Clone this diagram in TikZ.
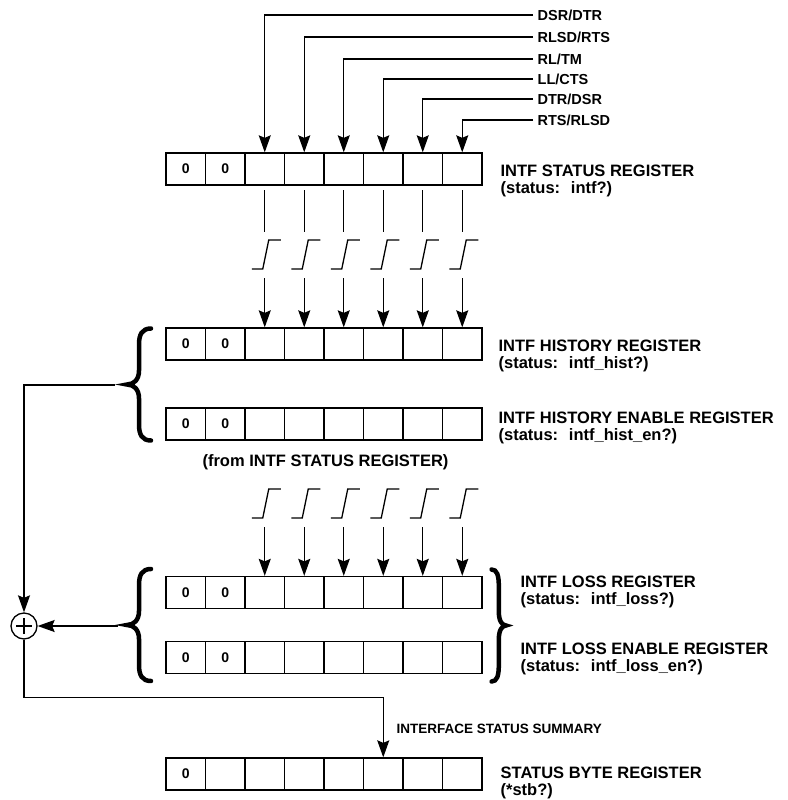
\documentclass[tikz,border=0pt]{standalone}
\usepackage{fontspec}
\setmainfont{Liberation Sans}
\usetikzlibrary{arrows.meta,positioning}

\newcommand\bitrow[3]{% name, centre y, number of zero bits
  \foreach \i in {1,...,8}
    \node[cell] (#1\i) at ({185.75+39.5*(\i-1)},#2) {\ifnum\i>#3\else 0\fi};
}

\begin{document}
\begin{tikzpicture}[
  x=1pt,y=-1pt,line width=1.3pt,
  cell/.style={draw,minimum width=39.5pt,minimum height=32pt,inner sep=0pt,
    font=\fontsize{14}{14}\selectfont\bfseries},
  reglbl/.style={anchor=west,align=left,inner sep=0pt,
    font=\fontsize{16.5}{17}\selectfont\bfseries},
  sig/.style={anchor=west,inner sep=4pt,font=\fontsize{14.5}{16}\selectfont\bfseries},
  flow/.style={-{Stealth[length=17pt,width=12pt,inset=2.5pt]}},
  edgeup/.pic={\draw (-13,0) -- (-2,0) -- (4,-29) -- (16,-29);},
  openbrace/.pic={\draw[line width=4.5pt,line cap=round]
    (24,-56) .. controls (15,-56) and (12,-50) .. (12,-40) -- (12,-14)
    .. controls (12,-5) and (7,0) .. (0,0)
    .. controls (7,0) and (12,5) .. (12,14) -- (12,40)
    .. controls (12,50) and (15,56) .. (24,56);}
]
  \useasboundingbox (0,0) rectangle (787,800);

  % registers
  \bitrow{st}{169}{2}
  \bitrow{hi}{344}{2}
  \bitrow{he}{424}{2}
  \bitrow{lo}{592.5}{2}
  \bitrow{le}{657.5}{2}
  \bitrow{sb}{774}{1}

  \node[reglbl] (stlbl) at (500,180.5) {INTF STATUS REGISTER\\(status:~ intf?)};
  \node[reglbl] (hilbl) at (498,355.5) {INTF HISTORY REGISTER\\(status:~ intf\_hist?)};
  \node[reglbl] (helbl) at (498,428) {INTF HISTORY ENABLE REGISTER\\(status:~ intf\_hist\_en?)};
  \node[reglbl] (lolbl) at (520,591.5) {INTF LOSS REGISTER\\(status:~ intf\_loss?)};
  \node[reglbl] (lelbl) at (520,659) {INTF LOSS ENABLE REGISTER\\(status:~ intf\_loss\_en?)};
  \node[reglbl] (sblbl) at (500,783) {STATUS BYTE REGISTER\\(*stb?)};
  \node[reglbl,anchor=center] (from) at (325.5,462) {(from INTF STATUS REGISTER)};
  \node[reglbl,font=\fontsize{13.5}{15}\selectfont\bfseries] (summary) at (396,729)
    {INTERFACE STATUS SUMMARY};

  % interface lines
  \node[sig] (s3) at (533,15) {DSR/DTR};
  \node[sig] (s4) at (533,37) {RLSD/RTS};
  \node[sig] (s5) at (533,59) {RL/TM};
  \node[sig] (s6) at (533,79) {LL/CTS};
  \node[sig] (s7) at (533,99) {DTR/DSR};
  \node[sig] (s8) at (533,120) {RTS/RLSD};

  \foreach \i in {3,...,8} {
    \draw[flow] (s\i.west) -| (st\i.north);
    \draw (st\i |- 0,190) -- (st\i |- 0,232);
    \pic at (st\i |- 0,269) {edgeup};
    \draw[flow] (st\i |- 0,278) -- (hi\i.north);
    \pic at (lo\i |- 0,518) {edgeup};
    \draw[flow] (lo\i |- 0,527) -- (lo\i.north);
  }

  % braces and summary
  \pic at (127,384.5) {openbrace};
  \pic at (127,625) {openbrace};
  \pic[xscale=-0.6] at (506,625.5) {openbrace};

  \node[circle,draw,minimum size=26pt,inner sep=0pt] (sum) at (24,626) {};
  \draw ([xshift=-8pt]sum.center) -- ([xshift=8pt]sum.center);
  \draw ([yshift=-8pt]sum.center) -- ([yshift=8pt]sum.center);

  \coordinate (histtip) at (115,385);
  \coordinate (losstip) at (118,626);
  \draw[flow] (histtip) -| (sum.north);
  \draw[flow] (losstip) -- (sum.east);
  \draw[flow] (sum.south) |- ([yshift=60pt]sb6.north) -- (sb6.north);
\end{tikzpicture}
\end{document}
